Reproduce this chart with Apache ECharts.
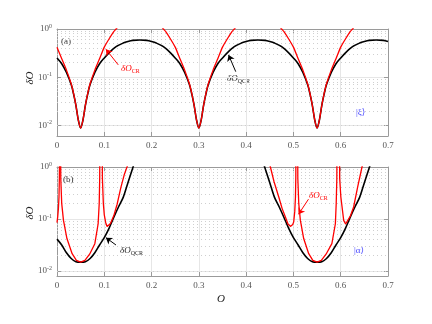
<!DOCTYPE html>
<html>
<head>
<meta charset="utf-8">
<script src="https://cdn.jsdelivr.net/npm/echarts@6/dist/echarts.min.js"></script>
<style>
  html, body { margin: 0; padding: 0; background: #fff; }
  #chart { width: 432px; height: 324px; }
</style>
</head>
<body>
<div id="chart"></div>
<script>
// panel (a): |xi> state
const qcrA = [[0,0.25],[0.01,0.19],[0.02,0.125],[0.03,0.07],[0.035,0.045],[0.04,0.026],[0.045,0.013],[0.05,0.0088],[0.055,0.013],[0.06,0.026],[0.065,0.045],[0.07,0.07],[0.08,0.125],[0.09,0.19],[0.1,0.25],[0.11,0.32],[0.125,0.43],[0.14,0.51],[0.15,0.55],[0.16,0.58],[0.175,0.59],[0.19,0.58],[0.2,0.55],[0.21,0.51],[0.225,0.43],[0.24,0.32],[0.25,0.25],[0.26,0.19],[0.27,0.125],[0.28,0.07],[0.285,0.045],[0.29,0.026],[0.295,0.013],[0.3,0.0088],[0.305,0.013],[0.31,0.026],[0.315,0.045],[0.32,0.07],[0.33,0.125],[0.34,0.19],[0.35,0.25],[0.36,0.32],[0.375,0.43],[0.39,0.51],[0.4,0.55],[0.41,0.58],[0.425,0.59],[0.44,0.58],[0.45,0.55],[0.46,0.51],[0.475,0.43],[0.49,0.32],[0.5,0.25],[0.51,0.19],[0.52,0.125],[0.53,0.07],[0.535,0.045],[0.54,0.026],[0.545,0.013],[0.55,0.0088],[0.555,0.013],[0.56,0.026],[0.565,0.045],[0.57,0.07],[0.58,0.125],[0.59,0.19],[0.6,0.25],[0.61,0.32],[0.625,0.43],[0.64,0.51],[0.65,0.55],[0.66,0.58],[0.675,0.59],[0.69,0.58],[0.7,0.55]];
const crA = [[0,0.42],[0.01,0.24],[0.02,0.14],[0.03,0.073],[0.035,0.046],[0.04,0.026],[0.045,0.013],[0.05,0.0088],[0.055,0.013],[0.06,0.026],[0.065,0.046],[0.07,0.073],[0.08,0.14],[0.09,0.24],[0.1,0.42],[0.11,0.62],[0.12,0.88],[0.125,1.0],[0.13,1.15],[0.175,'-'],
  [0.22,1.15],[0.225,1.0],[0.23,0.88],[0.24,0.62],[0.25,0.42],[0.26,0.24],[0.27,0.14],[0.28,0.073],[0.285,0.046],[0.29,0.026],[0.295,0.013],[0.3,0.0088],[0.305,0.013],[0.31,0.026],[0.315,0.046],[0.32,0.073],[0.33,0.14],[0.34,0.24],[0.35,0.42],[0.36,0.62],[0.37,0.88],[0.375,1.0],[0.38,1.15],[0.425,'-'],
  [0.47,1.15],[0.475,1.0],[0.48,0.88],[0.49,0.62],[0.5,0.42],[0.51,0.24],[0.52,0.14],[0.53,0.073],[0.535,0.046],[0.54,0.026],[0.545,0.013],[0.55,0.0088],[0.555,0.013],[0.56,0.026],[0.565,0.046],[0.57,0.073],[0.58,0.14],[0.59,0.24],[0.6,0.42],[0.61,0.62],[0.62,0.88],[0.625,1.0],[0.63,1.15]];

// panel (b): |alpha> state
const qcrB = [[0,0.041],[0.01,0.0316],[0.02,0.0224],[0.03,0.0174],[0.04,0.0151],[0.05,0.0148],[0.06,0.0151],[0.07,0.0174],[0.08,0.0224],[0.09,0.0316],[0.1,0.0437],[0.11,0.066],[0.12,0.107],[0.13,0.17],[0.14,0.26],[0.15,0.5],[0.16,0.95],[0.165,1.3],[0.3,'-'],
  [0.435,1.3],[0.44,0.95],[0.45,0.5],[0.46,0.26],[0.47,0.17],[0.48,0.107],[0.49,0.066],[0.5,0.0437],[0.51,0.0316],[0.52,0.0224],[0.53,0.0174],[0.54,0.0151],[0.55,0.0148],[0.56,0.0151],[0.57,0.0174],[0.58,0.0224],[0.59,0.0316],[0.6,0.0437],[0.61,0.066],[0.62,0.107],[0.63,0.17],[0.64,0.26],[0.65,0.5],[0.66,0.95],[0.665,1.3]];
const crB = [[0,0.085],[0.0015,0.11],[0.003,0.16],[0.0042,0.265],[0.005,0.6],[0.0055,5],[0.0065,'-'],
  [0.0075,5],[0.008,0.6],[0.01,0.197],[0.0137,0.094],[0.021,0.042],[0.032,0.0215],[0.041,0.016],[0.05,0.0148],[0.059,0.016],[0.069,0.021],[0.08,0.0335],[0.087,0.081],[0.0893,0.2],[0.0903,0.6],[0.0908,5],[0.093,'-'],
  [0.0955,5],[0.096,0.6],[0.098,0.2],[0.1,0.12],[0.103,0.085],[0.106,0.072],[0.109,0.072],[0.113,0.082],[0.12,0.115],[0.127,0.19],[0.135,0.4],[0.142,0.7],[0.148,1.0],[0.152,1.3],[0.3,'-'],
  [0.4465,1.4],[0.4513,1.0],[0.459,0.52],[0.469,0.265],[0.476,0.16],[0.483,0.109],[0.4885,0.08],[0.4936,0.072],[0.4985,0.078],[0.5006,0.088],[0.5028,0.14],[0.5043,0.265],[0.505,0.6],[0.5055,5],[0.507,'-'],
  [0.5088,5],[0.5093,0.6],[0.5113,0.197],[0.5147,0.094],[0.5217,0.042],[0.5323,0.0215],[0.541,0.016],[0.55,0.0148],[0.559,0.016],[0.569,0.021],[0.5813,0.0335],[0.5887,0.081],[0.5905,0.2],[0.5918,0.6],[0.5922,5],[0.595,'-'],
  [0.5973,5],[0.5978,0.6],[0.6003,0.265],[0.6063,0.094],[0.6103,0.08],[0.6133,0.082],[0.62,0.112],[0.6273,0.17],[0.636,0.42],[0.645,1.0],[0.6495,1.4]];

// dotted minor grid levels
const minorA = [0.007,0.008,0.009,0.02,0.03,0.04,0.05,0.06,0.07,0.08,0.09,0.2,0.3,0.4,0.5,0.6,0.7,0.8,0.9];
const minorB = [0.009,0.02,0.03,0.04,0.05,0.06,0.07,0.08,0.09,0.2,0.3,0.4,0.5,0.6,0.7,0.8,0.9];

const SERIF = "'Liberation Serif', 'DejaVu Serif', serif";
const FRAME = '#9a9a9a';
const RED = '#ff0000';

function xAxis(gi, pos) {
  return {
    type: 'value', gridIndex: gi, position: pos, min: 0, max: 0.7, interval: 0.1,
    axisLine: { show: true, onZero: false, lineStyle: { color: FRAME, width: 1 } },
    axisTick: { show: true, inside: true, length: 4, lineStyle: { color: FRAME } },
    axisLabel: {
      show: pos === 'bottom', margin: 5, color: '#555', fontFamily: SERIF, fontSize: 9,
      formatter: v => (v === 0 ? '0' : v.toFixed(1))
    },
    splitLine: { show: pos === 'bottom', lineStyle: { color: '#e6e6e6', width: 1 } }
  };
}

function yAxis(gi, pos, min) {
  return {
    type: 'log', logBase: 10, gridIndex: gi, position: pos, min: min, max: 1,
    axisLine: { show: true, onZero: false, lineStyle: { color: FRAME, width: 1 } },
    axisTick: { show: true, inside: true, length: 4, lineStyle: { color: FRAME } },
    axisLabel: {
      show: pos === 'left', showMinLabel: false, margin: 5, color: '#555', fontFamily: SERIF, fontSize: 9,
      formatter: v => '{b|10}{s|' + Math.round(Math.log10(v)) + '}',
      rich: {
        b: { fontFamily: SERIF, fontSize: 9, color: '#555' },
        s: { fontFamily: SERIF, fontSize: 6, color: '#555', padding: [0, 0, 6, 0] }
      }
    },
    splitLine: { show: pos === 'left', lineStyle: { color: '#e6e6e6', width: 1 } }
  };
}

function minorSeries(xi, yi, levels) {
  return {
    type: 'line', xAxisIndex: xi, yAxisIndex: yi, data: [], z: 1, silent: true,
    markLine: {
      silent: true, symbol: 'none', animation: false, z: 1,
      label: { show: false },
      lineStyle: { type: [1, 3], color: '#cfcfcf', width: 1 },
      data: levels.map(v => ({ yAxis: v }))
    }
  };
}

function curve(xi, yi, data, color, width, smooth, arrow) {
  return {
    type: 'line', xAxisIndex: xi, yAxisIndex: yi, data: data, showSymbol: false,
    smooth: smooth, connectNulls: false, clip: true, z: color === RED ? 4 : 3,
    lineStyle: { color: color, width: width },
    markLine: {
      silent: true, animation: false, symbol: ['none', 'arrow'], symbolSize: 6,
      label: { show: false },
      lineStyle: { type: 'solid', color: color, width: 1 },
      data: [arrow]
    }
  };
}

function txt(x, y, text, rich, extra) {
  return Object.assign({
    type: 'text', x: x, y: y, silent: true,
    style: { text: text, rich: rich, align: 'left', verticalAlign: 'middle' }
  }, extra || {});
}

const labelRich = c => ({
  i: { fontFamily: SERIF, fontStyle: 'italic', fontSize: 9, fill: c },
  s: { fontFamily: SERIF, fontSize: 6, fill: c, padding: [5, 0, 0, 0] }
});
const plainRich = (c, size) => ({ t: { fontFamily: SERIF, fontSize: size, fill: c } });
const italRich = { t: { fontFamily: SERIF, fontStyle: 'italic', fontSize: 11, fill: '#222' } };

const chart = echarts.init(document.getElementById('chart'), null, { renderer: 'canvas' });
chart.setOption({
  animation: false,
  backgroundColor: '#fff',
  grid: [
    { left: 57, top: 29, width: 331, height: 107 },
    { left: 57, top: 167, width: 331, height: 109 }
  ],
  xAxis: [xAxis(0, 'bottom'), xAxis(0, 'top'), xAxis(1, 'bottom'), xAxis(1, 'top')],
  yAxis: [yAxis(0, 'left', 0.006), yAxis(0, 'right', 0.006), yAxis(1, 'left', 0.008), yAxis(1, 'right', 0.008)],
  series: [
    minorSeries(0, 0, minorA),
    minorSeries(2, 2, minorB),
    curve(0, 0, qcrA, '#000', 1.6, 0.3, [{ coord: [0.378, 0.13] }, { coord: [0.3628, 0.29] }]),
    curve(0, 0, crA, RED, 1.3, 0.2, [{ coord: [0.1295, 0.18] }, { coord: [0.1035, 0.38] }]),
    curve(2, 2, qcrB, '#000', 1.6, 0.3, [{ coord: [0.1247, 0.0316] }, { coord: [0.1035, 0.0437] }]),
    curve(2, 2, crB, RED, 1.3, false, [{ coord: [0.5318, 0.24] }, { coord: [0.5107, 0.123] }])
  ],
  graphic: [
    txt(61, 42, '{t|(a)}', plainRich('#333', 9)),
    txt(63, 180, '{t|(b)}', plainRich('#333', 9)),
    txt(356, 113, '{t|\u007C\u03BE\u27E9}', plainRich('#4a4aff', 9)),
    txt(354, 251, '{t|\u007C\u03B1\u27E9}', plainRich('#4a4aff', 9)),
    txt(121, 69, '{i|\u03B4O}{s|CR}', labelRich(RED)),
    txt(227, 79, '{i|\u03B4O}{s|QCR}', labelRich('#222')),
    txt(120, 251, '{i|\u03B4O}{s|QCR}', labelRich('#222')),
    txt(309, 196, '{i|\u03B4O}{s|CR}', labelRich(RED)),
    txt(30, 78, '', italRich, { rotation: Math.PI / 2, style: { text: '{t|\u03B4O}', rich: italRich, align: 'center', verticalAlign: 'middle' } }),
    txt(30, 213, '', italRich, { rotation: Math.PI / 2, style: { text: '{t|\u03B4O}', rich: italRich, align: 'center', verticalAlign: 'middle' } }),
    txt(221, 299, '', italRich, { style: { text: '{t|O}', rich: italRich, align: 'center', verticalAlign: 'middle' } })
  ]
});
</script>
</body>
</html>
